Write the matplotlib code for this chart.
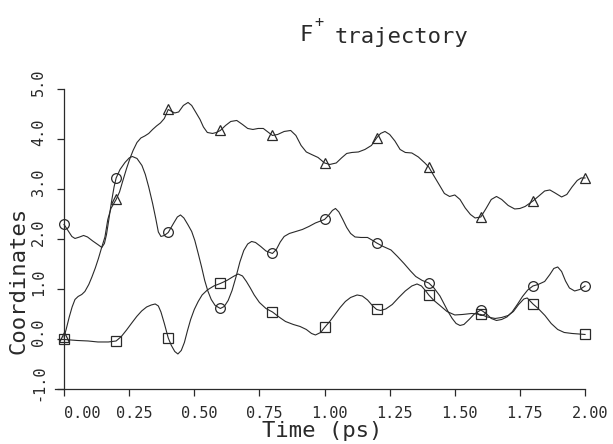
#! /usr/bin/env python3

import numpy as np
import matplotlib
matplotlib.use('Agg')
import matplotlib.pyplot as plt
from matplotlib.transforms import ScaledTranslation

# triangle curve (t in ps, coordinate)
t_tri = [0.000, 0.008, 0.020, 0.031, 0.042, 0.054, 0.068, 0.080, 0.095, 0.107,
         0.120, 0.132, 0.145, 0.157, 0.168, 0.180, 0.200, 0.213, 0.226, 0.240,
         0.253, 0.265, 0.280, 0.295, 0.310, 0.325, 0.340, 0.355, 0.370, 0.385,
         0.400, 0.410, 0.425, 0.440, 0.458, 0.476, 0.490, 0.505, 0.522, 0.535,
         0.550, 0.570, 0.585, 0.600, 0.620, 0.640, 0.663, 0.685, 0.705, 0.725,
         0.745, 0.765, 0.785, 0.800, 0.820, 0.845, 0.870, 0.890, 0.910, 0.930,
         0.950, 0.975, 1.000, 1.020, 1.045, 1.065, 1.085, 1.105, 1.130, 1.155,
         1.180, 1.200, 1.215, 1.232, 1.250, 1.270, 1.290, 1.310, 1.335, 1.360,
         1.385, 1.400, 1.420, 1.443, 1.460, 1.480, 1.500, 1.520, 1.540, 1.560,
         1.578, 1.600, 1.620, 1.640, 1.660, 1.680, 1.705, 1.730, 1.750, 1.770,
         1.800, 1.825, 1.845, 1.865, 1.885, 1.910, 1.930, 1.950, 1.970, 1.985,
         2.000]
v_tri = [0.05, 0.20, 0.45, 0.65, 0.80, 0.86, 0.90, 0.96, 1.10, 1.25,
         1.43, 1.62, 1.85, 2.05, 2.40, 2.62, 2.80, 2.95, 3.18, 3.42,
         3.62, 3.78, 3.94, 4.03, 4.07, 4.12, 4.20, 4.27, 4.33, 4.42,
         4.60, 4.57, 4.53, 4.55, 4.68, 4.74, 4.68, 4.55, 4.40, 4.25,
         4.14, 4.12, 4.14, 4.18, 4.28, 4.36, 4.38, 4.30, 4.22, 4.20,
         4.22, 4.22, 4.14, 4.08, 4.10, 4.16, 4.18, 4.08, 3.88, 3.75,
         3.70, 3.64, 3.53, 3.50, 3.53, 3.63, 3.72, 3.74, 3.75, 3.80,
         3.88, 4.03, 4.12, 4.16, 4.10, 3.97, 3.80, 3.74, 3.73, 3.65,
         3.53, 3.45, 3.27, 3.07, 2.92, 2.86, 2.89, 2.80, 2.63, 2.50,
         2.43, 2.45, 2.62, 2.80, 2.86, 2.80, 2.68, 2.61, 2.62, 2.66,
         2.77, 2.88, 2.97, 2.99, 2.93, 2.85, 2.90, 3.05, 3.18, 3.23,
         3.23]

# circle curve
t_circ = [0.000, 0.015, 0.030, 0.042, 0.060, 0.075, 0.090, 0.110, 0.132, 0.145,
          0.155, 0.163, 0.172, 0.182, 0.192, 0.200, 0.215, 0.234, 0.250, 0.262,
          0.280, 0.299, 0.312, 0.325, 0.340, 0.352, 0.362, 0.372, 0.385, 0.400,
          0.420, 0.435, 0.447, 0.460, 0.475, 0.490, 0.502, 0.515, 0.528, 0.540,
          0.552, 0.565, 0.580, 0.600, 0.615, 0.630, 0.645, 0.660, 0.675, 0.690,
          0.705, 0.720, 0.735, 0.755, 0.775, 0.800, 0.815, 0.830, 0.845, 0.865,
          0.890, 0.915, 0.940, 0.965, 0.985, 1.000, 1.015, 1.030, 1.042, 1.055,
          1.070, 1.085, 1.100, 1.117, 1.140, 1.165, 1.185, 1.200, 1.225, 1.255,
          1.280, 1.305, 1.330, 1.350, 1.375, 1.400, 1.420, 1.443, 1.460, 1.475,
          1.490, 1.505, 1.520, 1.535, 1.555, 1.575, 1.600, 1.620, 1.640, 1.660,
          1.680, 1.700, 1.720, 1.740, 1.760, 1.780, 1.800, 1.820, 1.845, 1.865,
          1.880, 1.895, 1.910, 1.925, 1.940, 1.960, 1.980, 2.000]
v_circ = [2.30, 2.18, 2.06, 2.02, 2.05, 2.08, 2.05, 1.97, 1.89, 1.84,
          1.92, 2.10, 2.40, 2.75, 3.05, 3.23, 3.40, 3.54, 3.63, 3.66,
          3.62, 3.48, 3.30, 3.05, 2.72, 2.42, 2.15, 2.06, 2.08, 2.14,
          2.32, 2.45, 2.49, 2.43, 2.30, 2.16, 1.98, 1.72, 1.45, 1.18,
          0.97, 0.80, 0.68, 0.62, 0.66, 0.78, 0.98, 1.25, 1.55, 1.78,
          1.91, 1.96, 1.94, 1.86, 1.77, 1.72, 1.80, 1.95, 2.06, 2.12,
          2.16, 2.20, 2.26, 2.33, 2.37, 2.40, 2.48, 2.58, 2.62, 2.55,
          2.40, 2.24, 2.12, 2.05, 2.04, 2.04, 1.98, 1.93, 1.86, 1.79,
          1.66, 1.52, 1.37, 1.26, 1.18, 1.13, 1.03, 0.87, 0.70, 0.55,
          0.42, 0.32, 0.28, 0.30, 0.40, 0.51, 0.59, 0.52, 0.42, 0.38,
          0.40, 0.45, 0.55, 0.70, 0.86, 0.99, 1.07, 1.10, 1.16, 1.30,
          1.42, 1.45, 1.36, 1.17, 1.03, 0.97, 1.00, 1.07]

# square curve
t_sq = [0.000, 0.050, 0.092, 0.130, 0.170, 0.200, 0.220, 0.240, 0.260, 0.279,
        0.298, 0.317, 0.335, 0.350, 0.362, 0.372, 0.385, 0.400, 0.412, 0.425,
        0.437, 0.450, 0.462, 0.474, 0.486, 0.500, 0.515, 0.530, 0.550, 0.575,
        0.600, 0.625, 0.650, 0.668, 0.685, 0.700, 0.715, 0.730, 0.750, 0.775,
        0.800, 0.825, 0.850, 0.880, 0.906, 0.930, 0.950, 0.965, 0.985, 1.000,
        1.020, 1.040, 1.060, 1.080, 1.100, 1.125, 1.145, 1.165, 1.185, 1.200,
        1.215, 1.235, 1.260, 1.285, 1.310, 1.335, 1.355, 1.372, 1.390, 1.400,
        1.420, 1.443, 1.470, 1.500, 1.530, 1.565, 1.600, 1.625, 1.655, 1.680,
        1.705, 1.725, 1.745, 1.765, 1.778, 1.800, 1.820, 1.846, 1.870, 1.895,
        1.920, 1.950, 1.975, 2.000]
v_sq = [0.00, -0.02, -0.03, -0.05, -0.05, -0.03, 0.06, 0.19, 0.33, 0.46,
        0.57, 0.65, 0.69, 0.71, 0.67, 0.55, 0.32, 0.03, -0.12, -0.24,
        -0.29, -0.22, -0.06, 0.18, 0.40, 0.60, 0.76, 0.89, 0.99, 1.07,
        1.12, 1.18, 1.26, 1.31, 1.27, 1.16, 1.03, 0.89, 0.74, 0.62,
        0.55, 0.45, 0.36, 0.30, 0.26, 0.20, 0.12, 0.09, 0.14, 0.24,
        0.36, 0.50, 0.64, 0.76, 0.84, 0.89, 0.87, 0.79, 0.67, 0.60,
        0.58, 0.61, 0.70, 0.84, 0.97, 1.07, 1.11, 1.07, 0.96, 0.89,
        0.78, 0.68, 0.56, 0.49, 0.50, 0.52, 0.50, 0.45, 0.42, 0.44,
        0.48, 0.56, 0.70, 0.81, 0.83, 0.71, 0.62, 0.48, 0.32, 0.20,
        0.14, 0.12, 0.11, 0.10]

xticks = [0.00, 0.25, 0.50, 0.75, 1.00, 1.25, 1.50, 1.75, 2.00]
yticks = [-1.0, 0.0, 1.0, 2.0, 3.0, 4.0, 5.0]

INK = '#2a2a2a'
MONO = 'DejaVu Sans Mono'


def marks(t):
    # markers every 0.2 ps
    return [i for i, x in enumerate(t) if abs(x / 0.2 - round(x / 0.2)) < 1e-6]


fig = plt.figure(figsize=(6.13, 4.44), dpi=100)
ax = fig.add_axes([0.0896, 0.1228, 0.8648, 0.6757])

for t, v, m, ms in [(t_tri, v_tri, '^', 7), (t_circ, v_circ, 'o', 7), (t_sq, v_sq, 's', 6.5)]:
    ax.plot(t, v, color=INK, lw=0.8, marker=m, ms=ms, mfc='none', mec=INK, mew=0.9,
            markevery=marks(t), clip_on=False)

ax.set_xlim(-0.035, 2.0)
ax.set_ylim(-1.0, 5.0)
for s in ['top', 'right']:
    ax.spines[s].set_visible(False)
ax.spines['left'].set_position(('data', 0.0))
ax.spines['bottom'].set_bounds(-0.035, 2.0)
for s in ['left', 'bottom']:
    ax.spines[s].set_color(INK)
    ax.spines[s].set_linewidth(0.9)

ax.set_xticks(xticks)
ax.set_xticklabels(['%.2f' % x for x in xticks])
ax.set_yticks(yticks)
ax.set_yticklabels(['%.1f' % y for y in yticks], rotation=90, va='center')
ax.tick_params(direction='out', length=5, width=0.9, color=INK, labelcolor=INK,
               labelsize=11)
ax.tick_params(axis='x', pad=7)
ax.tick_params(axis='y', pad=8)
for lab in ax.get_xticklabels():
    lab.set_family(MONO)
for lab in ax.get_yticklabels():
    lab.set_family(MONO)

# shift tick labels like the original plotter output
for i, lab in enumerate(ax.get_xticklabels()):
    dx = 18 if i == 0 else 5
    lab.set_transform(lab.get_transform() + ScaledTranslation(dx / 100, 0, fig.dpi_scale_trans))
for lab in ax.get_yticklabels():
    lab.set_transform(lab.get_transform() + ScaledTranslation(0, 7 / 100, fig.dpi_scale_trans))

fig.text(322.5 / 613, 1 - 431 / 444, 'Time (ps)', family=MONO, fontsize=16,
         color=INK, ha='center', va='center')
fig.text(18.5 / 613, 1 - 280 / 444, 'Coordinates', family=MONO, fontsize=16,
         color=INK, ha='center', va='center', rotation=90)

fig.text(306 / 613, 1 - 35 / 444, 'F', family=MONO, fontsize=16, color=INK,
         ha='center', va='center')
fig.text(319 / 613, 1 - 23 / 444, '+', family=MONO, fontsize=11, color=INK,
         ha='center', va='center')
fig.text(402 / 613, 1 - 37 / 444, 'trajectory', family=MONO, fontsize=16,
         color=INK, ha='center', va='center')

fig.savefig('out.png', dpi=100)
